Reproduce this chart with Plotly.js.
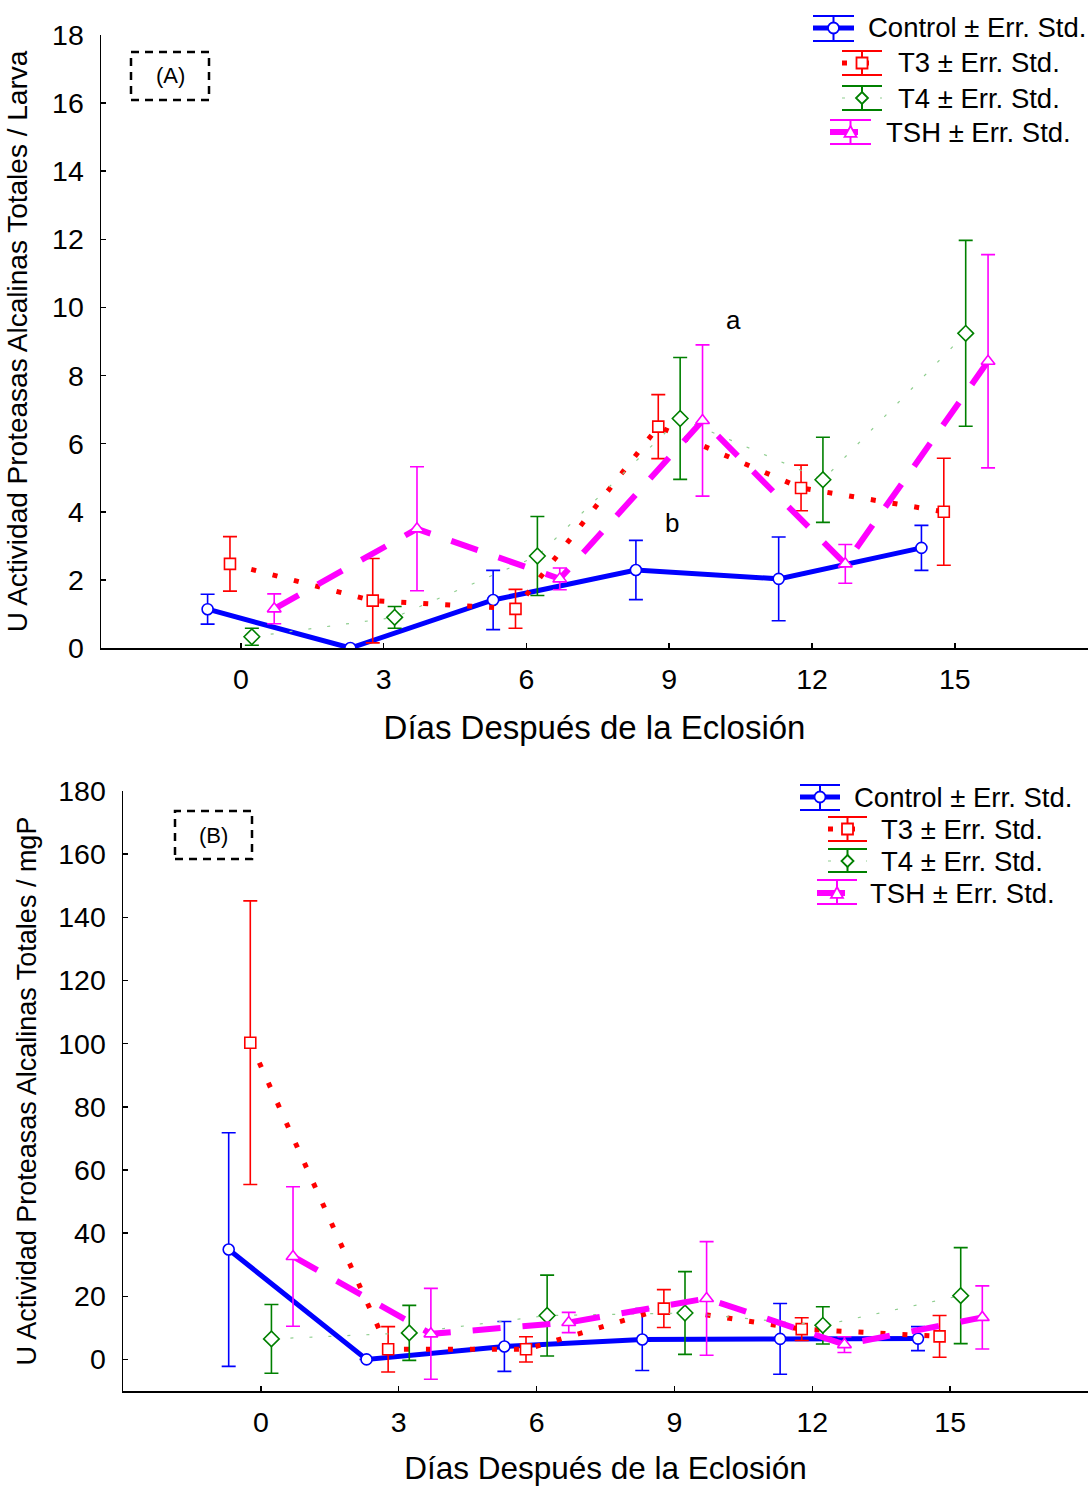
<!DOCTYPE html>
<html>
<head>
<meta charset="utf-8">
<script src="https://cdn.plot.ly/plotly-3.0.1.min.js"></script>
<style>
html,body{margin:0;padding:0;background:#ffffff;}
#chart{width:1089px;height:1486px;}
</style>
</head>
<body>
<div id="chart"></div>
<script>
// ---------------- DATA ----------------
const days = [0, 3, 6, 9, 12, 15];
const xTickLabelsA = ['0', '3', '6', '9', '12', '15'];
const xTickValsA = [0, 3, 6, 9, 12, 15];
const xTickLabelsB = ['', '0', '3', '6', '9', '12', '15', ''];
const xTickValsB = [-3, 0, 3, 6, 9, 12, 15, 18];
const seriesNames = ['Control', 'T3', 'T4', 'TSH'];

// Panel A: U Actividad / Larva
const controlA    = [1.14, 0.00, 1.41, 2.29, 2.03, 2.94];
const controlAErr = [0.44, 0.00, 0.87, 0.87, 1.23, 0.66];
const t3A         = [2.47, 1.39, 1.15, 6.50, 4.70, 4.00];
const t3AErr      = [0.80, 1.24, 0.57, 0.94, 0.67, 1.57];
const t4A         = [0.33, 0.90, 2.70, 6.74, 4.94, 9.24];
const t4AErr      = [0.25, 0.32, 1.16, 1.79, 1.25, 2.73];
const tshA        = [1.15, 3.50, 2.03, 6.68, 2.47, 8.42];
const tshAErr     = [0.44, 1.82, 0.32, 2.22, 0.57, 3.13];

// Panel B: U Actividad / mgP
const controlB    = [34.8, 0.0, 4.1, 6.3, 6.5, 6.6];
const controlBErr = [37.0, 0.0, 7.9, 9.8, 11.2, 3.8];
const t3B         = [100.3, 3.2, 3.2, 16.1, 9.6, 7.3];
const t3BErr      = [44.9, 7.2, 4.0, 6.0, 3.6, 6.6];
const t4B         = [6.5, 8.4, 13.9, 14.7, 10.8, 20.2];
const t4BErr      = [10.9, 8.7, 12.8, 13.1, 5.9, 15.2];
const tshB        = [32.6, 8.1, 11.7, 19.3, 4.7, 13.3];
const tshBErr     = [22.1, 14.4, 3.2, 18.0, 2.5, 10.0];

const legendText = ['Control ± Err. Std.', 'T3 ± Err. Std.', 'T4 ± Err. Std.', 'TSH ± Err. Std.'];
const xTitle = 'Días Después de la Eclosión';
const yTitleA = 'U Actividad Proteasas Alcalinas Totales / Larva';
const yTitleB = 'U Actividad Proteasas Alcalinas Totales / mgP';

// ---------------- STYLES ----------------
const W = 1089, H = 1486;
const px = x => x / W;
const py = y => 1 - y / H;
const FONT = 'Liberation Sans, Arial, sans-serif';

const styles = {
  Control: {dodge: -0.7, line: {color: '#0000ff', width: 5, dash: 'solid'}, sym: 'circle', size: 11, mcol: '#0000ff', ecol: '#0000ff'},
  T3:      {dodge: -0.23, line: {color: '#ff0000', width: 5, dash: '5px,17px'}, sym: 'square', size: 11, mcol: '#ff0000', ecol: '#ff0000'},
  T4:      {dodge: 0.23, line: {color: '#8fce8f', width: 1.2, dash: '3px,16px'}, sym: 'diamond', size: 12, mcol: '#008000', ecol: '#008000'},
  TSH:     {dodge: 0.7, line: {color: '#ff00ff', width: 6, dash: '28px,22px'}, sym: 'triangle-up', size: 12, mcol: '#ff00ff', ecol: '#ff00ff'}
};

function mk(name, vals, errs, xa, ya) {
  const s = styles[name];
  return {
    type: 'scatter', mode: 'lines+markers', name: name, showlegend: false,
    x: days.map(d => d + s.dodge), y: vals,
    xaxis: xa, yaxis: ya,
    line: s.line,
    marker: {symbol: s.sym, size: s.size, color: '#ffffff', line: {color: s.mcol, width: 1.6}},
    error_y: {type: 'data', array: errs, visible: true, color: s.ecol, thickness: 1.6, width: 7}
  };
}

const data = [
  mk('Control', controlA, controlAErr, 'x', 'y'),
  mk('T3', t3A, t3AErr, 'x', 'y'),
  mk('T4', t4A, t4AErr, 'x', 'y'),
  mk('TSH', tshA, tshAErr, 'x', 'y'),
  mk('Control', controlB, controlBErr, 'x2', 'y2'),
  mk('T3', t3B, t3BErr, 'x2', 'y2'),
  mk('T4', t4B, t4BErr, 'x2', 'y2'),
  mk('TSH', tshB, tshBErr, 'x2', 'y2')
];

// ---------------- CUSTOM LEGENDS ----------------
const shapes = [];
const annotations = [];

function legendEntry(name, label, x0, x1, cy, ytop, ybot, tx) {
  const s = styles[name];
  const xc = (x0 + x1) / 2;
  shapes.push({type: 'line', xref: 'paper', yref: 'paper', x0: px(x0), x1: px(x1), y0: py(cy), y1: py(cy),
    line: {color: s.line.color, width: s.line.width, dash: s.line.dash}});
  [ytop, ybot].forEach(yy => shapes.push({type: 'line', xref: 'paper', yref: 'paper', x0: px(x0), x1: px(x1), y0: py(yy), y1: py(yy),
    line: {color: s.ecol, width: 2}}));
  shapes.push({type: 'line', xref: 'paper', yref: 'paper', x0: px(xc), x1: px(xc), y0: py(ytop), y1: py(ybot),
    line: {color: s.ecol, width: 2}});
  const r = s.size / 2;
  const mline = {color: s.mcol, width: 1.8};
  if (s.sym === 'circle') {
    shapes.push({type: 'circle', xref: 'paper', yref: 'paper', x0: px(xc - r), x1: px(xc + r), y0: py(cy - r), y1: py(cy + r), fillcolor: '#ffffff', line: mline});
  } else if (s.sym === 'square') {
    shapes.push({type: 'rect', xref: 'paper', yref: 'paper', x0: px(xc - r), x1: px(xc + r), y0: py(cy - r), y1: py(cy + r), fillcolor: '#ffffff', line: mline});
  } else if (s.sym === 'diamond') {
    const p = `M${px(xc)},${py(cy - r)} L${px(xc + r)},${py(cy)} L${px(xc)},${py(cy + r)} L${px(xc - r)},${py(cy)} Z`;
    shapes.push({type: 'path', xref: 'paper', yref: 'paper', path: p, fillcolor: '#ffffff', line: mline});
  } else {
    const p = `M${px(xc)},${py(cy - r)} L${px(xc + r)},${py(cy + r * 0.8)} L${px(xc - r)},${py(cy + r * 0.8)} Z`;
    shapes.push({type: 'path', xref: 'paper', yref: 'paper', path: p, fillcolor: '#ffffff', line: mline});
  }
  annotations.push({xref: 'paper', yref: 'paper', x: px(tx), y: py(cy), xanchor: 'left', yanchor: 'middle',
    text: label, showarrow: false, font: {family: FONT, size: 27.5, color: '#000000'}});
}

// Panel A legend
legendEntry('Control', legendText[0], 813, 854, 28, 16, 41, 866);
legendEntry('T3', legendText[1], 842, 882, 63, 51, 75, 896);
legendEntry('T4', legendText[2], 842, 882, 98, 86, 110, 896);
legendEntry('TSH', legendText[3], 830, 871, 132, 120, 144, 884);
// Panel B legend
legendEntry('Control', legendText[0], 800, 840, 797, 785, 810, 852);
legendEntry('T3', legendText[1], 828, 867, 829, 817, 841, 879);
legendEntry('T4', legendText[2], 828, 867, 861, 849, 872, 879);
legendEntry('TSH', legendText[3], 817, 857, 893, 880, 904, 868);

// Panel label boxes
function panelBox(label, x0, y0, x1, y1) {
  shapes.push({type: 'rect', xref: 'paper', yref: 'paper', x0: px(x0), x1: px(x1), y0: py(y1), y1: py(y0),
    line: {color: '#000000', width: 2.5, dash: '8px,6px'}, fillcolor: 'rgba(0,0,0,0)'});
  annotations.push({xref: 'paper', yref: 'paper', x: px((x0 + x1) / 2), y: py((y0 + y1) / 2), xanchor: 'center', yanchor: 'middle',
    text: label, showarrow: false, font: {family: FONT, size: 22, color: '#000000'}});
}
panelBox('(A)', 131, 52, 209, 100);
panelBox('(B)', 175, 811, 252, 859);

// significance letters (data coords, panel A)
annotations.push({xref: 'x', yref: 'y', x: 10.36, y: 9.63, text: 'a', showarrow: false, font: {family: FONT, size: 26, color: '#000000'}});
annotations.push({xref: 'x', yref: 'y', x: 9.05, y: 3.67, text: 'b', showarrow: false, font: {family: FONT, size: 26, color: '#000000'}});

// ---------------- AXES ----------------
const axBase = {
  showgrid: false, zeroline: false, showline: true, linecolor: '#000000', linewidth: 1.5,
  ticks: 'inside', ticklen: 5, tickwidth: 1.5, tickcolor: '#000000',
  tickfont: {family: FONT, size: 28.5, color: '#000000'}, automargin: false, fixedrange: true
};

const layout = {
  width: W, height: H,
  margin: {l: 0, r: 0, t: 0, b: 0},
  paper_bgcolor: '#ffffff', plot_bgcolor: '#ffffff',
  font: {family: FONT, color: '#000000'},
  showlegend: false,
  xaxis: Object.assign({}, axBase, {
    domain: [px(101), px(1088)], range: [-2.94, 17.8], anchor: 'y',
    tickmode: 'array', tickvals: xTickValsA, ticktext: xTickLabelsA, ticklabelstandoff: 5,
    title: {text: xTitle, font: {family: FONT, size: 33, color: '#000000'}, standoff: 22}
  }),
  yaxis: Object.assign({}, axBase, {
    domain: [py(648), py(35)], range: [0, 18], anchor: 'x',
    tickmode: 'linear', tick0: 0, dtick: 2, ticklabelstandoff: 10,
    title: {text: yTitleA, font: {family: FONT, size: 28, color: '#000000'}, standoff: 16}
  }),
  xaxis2: Object.assign({}, axBase, {
    domain: [px(123), px(1088)], range: [-3, 18], anchor: 'y2',
    tickmode: 'array', tickvals: xTickValsB, ticktext: xTickLabelsB, ticklabelstandoff: 5,
    title: {text: xTitle, font: {family: FONT, size: 31.5, color: '#000000'}, standoff: 20}
  }),
  yaxis2: Object.assign({}, axBase, {
    domain: [py(1391), py(791)], range: [-10, 180], anchor: 'x2',
    tickmode: 'linear', tick0: 0, dtick: 20, ticklabelstandoff: 10,
    title: {text: yTitleB, font: {family: FONT, size: 27, color: '#000000'}, standoff: 14}
  }),
  shapes: shapes,
  annotations: annotations
};

Plotly.newPlot('chart', data, layout, {displayModeBar: false, staticPlot: true});
</script>
</body>
</html>
